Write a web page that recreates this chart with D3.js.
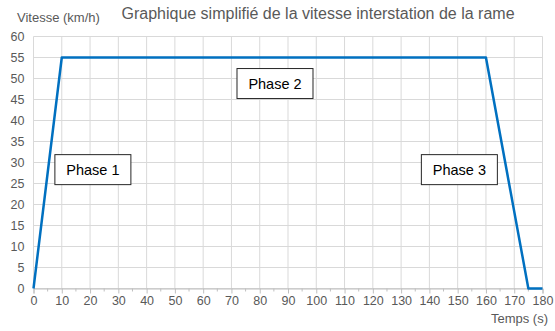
<!DOCTYPE html>
<html>
<head>
<meta charset="utf-8">
<script src="https://cdn.jsdelivr.net/npm/d3@7"></script>
<style>
  html, body { margin: 0; padding: 0; background: #fff; }
  svg { display: block; font-family: "Liberation Sans", Arial, sans-serif; }
</style>
</head>
<body>
<svg id="chart" width="555" height="331"></svg>
<script>
// Speed profile of the train between two stations
const timeSeconds = [0, 10, 160, 175, 180];
const speedKmh    = [0, 55, 55, 0, 0];
const xTicks = d3.range(0, 181, 10);
const yTicks = d3.range(0, 61, 5);
const phaseLabels = ["Phase 1", "Phase 2", "Phase 3"];
const phaseAnchors = [[21, 28.3], [85.4, 48.8], [150.6, 28.3]]; // [time, speed] centre of each label

const svg = d3.select("#chart");
const margin = { left: 33.5, right: 12.5, top: 36.5, bottom: 42.5 };
const W = 555, H = 331;

const x = d3.scaleLinear().domain([0, 180]).range([margin.left, W - margin.right]);
const y = d3.scaleLinear().domain([0, 60]).range([H - margin.bottom, margin.top]);

const grid = "#d9d9d9";
const textCol = "#595959";

// gridlines
svg.append("g").selectAll("line").data(xTicks).join("line")
  .attr("x1", d => x(d)).attr("x2", d => x(d))
  .attr("y1", y(0)).attr("y2", y(60))
  .attr("stroke", grid).attr("stroke-width", 1);
svg.append("g").selectAll("line").data(yTicks).join("line")
  .attr("x1", x(0)).attr("x2", x(180))
  .attr("y1", d => y(d)).attr("y2", d => y(d))
  .attr("stroke", grid).attr("stroke-width", 1);

// x axis with major and minor ticks
const xAxis = svg.append("g").attr("transform", `translate(0,${y(0)})`)
  .call(d3.axisBottom(x).tickValues(xTicks).tickSize(5).tickPadding(3));
xAxis.select(".domain").attr("stroke", "#bfbfbf");
xAxis.selectAll(".tick line").attr("stroke", "#bfbfbf");
xAxis.selectAll("text").attr("fill", textCol).style("font-size", "12.5px")
  .style("font-family", "Liberation Sans, Arial, sans-serif");
svg.append("g").selectAll("line").data(d3.range(5, 180, 10)).join("line")
  .attr("x1", d => x(d)).attr("x2", d => x(d))
  .attr("y1", y(0)).attr("y2", y(0) + 3)
  .attr("stroke", "#bfbfbf");

// y axis labels
const yAxis = svg.append("g").attr("transform", `translate(${x(0)},0)`)
  .call(d3.axisLeft(y).tickValues(yTicks).tickSize(0).tickPadding(9));
yAxis.select(".domain").remove();
yAxis.selectAll("text").attr("fill", textCol).style("font-size", "12.5px")
  .style("font-family", "Liberation Sans, Arial, sans-serif");

// speed curve
const line = d3.line().x((d, i) => x(timeSeconds[i])).y(d => y(d));
svg.append("path").datum(speedKmh)
  .attr("d", line)
  .attr("fill", "none")
  .attr("stroke", "#0070c0")
  .attr("stroke-width", 2.5)
  .attr("stroke-linejoin", "round");

// titles
svg.append("text").attr("x", 318).attr("y", 19)
  .attr("text-anchor", "middle").attr("fill", textCol)
  .style("font-size", "16px")
  .text("Graphique simplifié de la vitesse interstation de la rame");
svg.append("text").attr("x", 17).attr("y", 22)
  .attr("fill", textCol).style("font-size", "13px")
  .text("Vitesse (km/h)");
svg.append("text").attr("x", 548).attr("y", 323)
  .attr("text-anchor", "end").attr("fill", textCol).style("font-size", "13px")
  .text("Temps (s)");

// phase labels in boxes
const boxW = 76, boxH = 30;
const phases = svg.append("g").selectAll("g").data(phaseLabels).join("g")
  .attr("transform", (d, i) => `translate(${x(phaseAnchors[i][0])},${y(phaseAnchors[i][1])})`);
phases.append("rect")
  .attr("x", -boxW / 2).attr("y", -boxH / 2)
  .attr("width", boxW).attr("height", boxH)
  .attr("fill", "#fff").attr("stroke", "#262626").attr("stroke-width", 1);
phases.append("text")
  .attr("text-anchor", "middle").attr("dy", "0.36em")
  .attr("fill", "#000").style("font-size", "14.5px")
  .text(d => d);
</script>
</body>
</html>
